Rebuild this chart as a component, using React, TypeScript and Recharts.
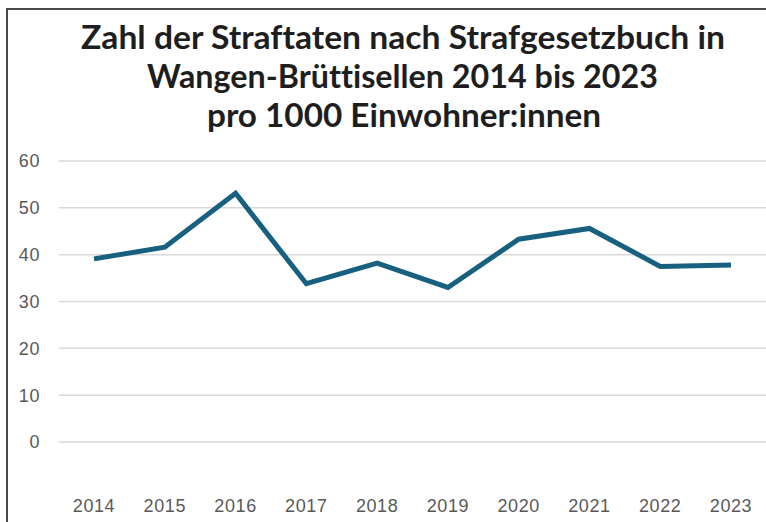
import React from 'react';
import { LineChart, Line, XAxis, YAxis, CartesianGrid } from 'recharts';

const years = ['2014', '2015', '2016', '2017', '2018', '2019', '2020', '2021', '2022', '2023'];
const rates = [39.1, 41.6, 53.1, 33.8, 38.2, 33.0, 43.3, 45.6, 37.5, 37.8];
const yTicks = [0, 10, 20, 30, 40, 50, 60];
const titleLines = [
  'Zahl der Straftaten nach Strafgesetzbuch in',
  'Wangen-Brüttisellen 2014 bis 2023',
  'pro 1000 Einwohner:innen',
];

const data = years.map((y, i) => ({ year: y, value: rates[i] }));

const titleLayout = [
  { x: 81, y: 49, len: 644 },
  { x: 147, y: 88, len: 511 },
  { x: 207, y: 127, len: 394 },
];

const tickStyle = {
  fill: '#595959',
  fontSize: 18,
  fontFamily: 'Liberation Sans, Arial, sans-serif',
  letterSpacing: 0.6,
};

export default function App() {
  return (
    <div style={{ position: 'absolute', left: 0, top: 0, width: 766, height: 522, background: '#fff' }}>
      <LineChart
        width={766}
        height={522}
        data={data}
        margin={{ top: 161, right: 0, left: 0, bottom: 0 }}
      >
        <CartesianGrid vertical={false} stroke="#d9d9d9" strokeWidth={1.5} />
        <XAxis
          dataKey="year"
          height={80}
          axisLine={false}
          tickLine={false}
          tickMargin={51}
          padding={{ left: 35, right: 35 }}
          interval={0}
          tick={tickStyle}
        />
        <YAxis
          width={59}
          domain={[0, 60]}
          ticks={yTicks}
          axisLine={false}
          tickLine={false}
          tickMargin={13}
          tick={tickStyle}
        />
        <Line
          type="linear"
          dataKey="value"
          stroke="#17607f"
          strokeWidth={5}
          dot={false}
          activeDot={false}
          isAnimationActive={false}
        />
      </LineChart>
      <svg
        width={766}
        height={522}
        style={{ position: 'absolute', left: 0, top: 0, pointerEvents: 'none' }}
      >
        <rect x={6} y={8} width={2} height={514} fill="#4a4a4a" />
        <rect x={6} y={8} width={760} height={2} fill="#4a4a4a" />
        {titleLines.map((t, i) => (
          <text
            key={i}
            x={titleLayout[i].x}
            y={titleLayout[i].y}
            textLength={titleLayout[i].len}
            lengthAdjust="spacingAndGlyphs"
            fontFamily="Lato, 'Open Sans', sans-serif"
            fontWeight={700}
            fontSize={33}
            fill="#1e1e1e"
            style={{ fontVariantLigatures: 'none', fontFeatureSettings: '"liga" 0, "clig" 0' }}
          >
            {t}
          </text>
        ))}
      </svg>
    </div>
  );
}
